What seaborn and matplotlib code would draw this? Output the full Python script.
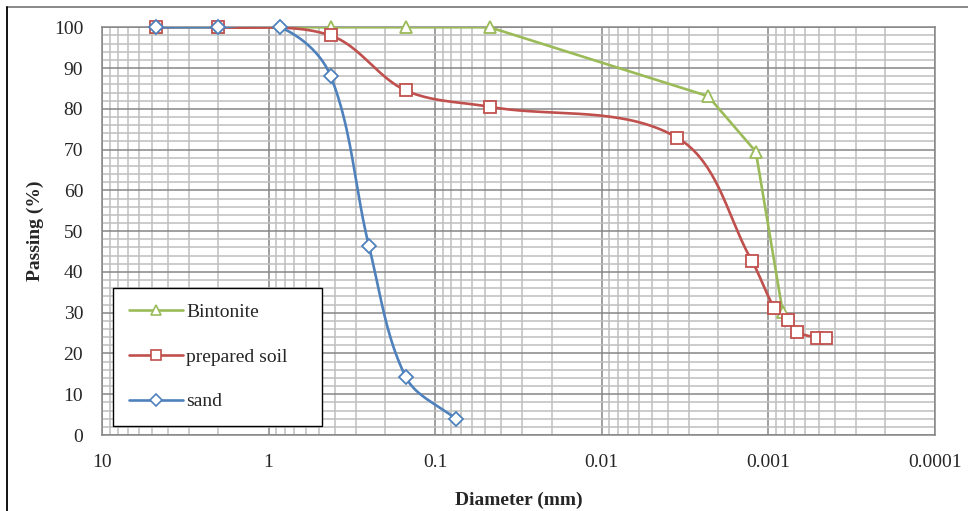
import numpy as np
import pandas as pd
import matplotlib
matplotlib.use("Agg")
import matplotlib.pyplot as plt
from matplotlib.lines import Line2D
from matplotlib.ticker import FixedLocator, NullFormatter, FixedFormatter
import seaborn as sns

# ---------------- data ----------------
bent_d = [4.75, 2.0, 0.425, 0.15, 0.047, 0.0023, 0.00119, 0.00082]
bent_p = [100, 100, 100, 100, 100, 83.1, 69.5, 30.1]

soil_d = [4.75, 2.0, 0.425, 0.15, 0.047, 0.00352, 0.00126, 0.00092, 0.00076, 0.00067, 0.00051, 0.00045]
soil_p = [100, 100, 98.0, 84.5, 80.5, 72.9, 42.8, 31.2, 28.2, 25.3, 23.9, 23.9]

sand_d = [4.75, 2.0, 0.85, 0.425, 0.25, 0.15, 0.075]
sand_p = [100, 100, 100, 88.1, 46.4, 14.2, 3.9]

series_names = ["Bintonite", "prepared soil", "sand"]
series_colors = ["#9BBB59", "#C0504D", "#4F81BD"]
series_markers = ["^", "s", "D"]
series_smooth = [False, True, True]

x_tick_vals = [10, 1, 0.1, 0.01, 0.001, 0.0001]
x_tick_labels = ["10", "1", "0.1", "0.01", "0.001", "0.0001"]
y_tick_vals = list(range(0, 101, 10))

# approximate on-screen scale (px per decade, px per percent) used only for smoothing shape
SX, SY = 166.7, 4.077


def smooth(xs, ys, n=40):
    """Excel-like smoothed line: Bezier segments with length-limited tangents."""
    lx = np.log10(np.asarray(xs, float)) * SX
    y = np.asarray(ys, float) * SY
    P = np.column_stack([lx, y])
    out = []
    m = len(P)
    for i in range(m - 1):
        p0 = P[i - 1] if i > 0 else P[i]
        p1 = P[i]
        p2 = P[i + 1]
        p3 = P[i + 2] if i + 2 < m else P[i + 1]
        L = np.linalg.norm(p2 - p1)
        t1 = p2 - p0
        t2 = p3 - p1
        n1 = np.linalg.norm(t1)
        n2 = np.linalg.norm(t2)
        c1 = p1 + (t1 / n1 * L / 3.0 if n1 > 0 else 0)
        c2 = p2 - (t2 / n2 * L / 3.0 if n2 > 0 else 0)
        t = np.linspace(0, 1, n)[:, None]
        seg = ((1 - t) ** 3) * p1 + 3 * ((1 - t) ** 2) * t * c1 + 3 * (1 - t) * t ** 2 * c2 + t ** 3 * p2
        if i > 0:
            seg = seg[1:]
        out.append(seg)
    out = np.vstack(out)
    return 10 ** (out[:, 0] / SX), out[:, 1] / SY


sns.set_style("white")
plt.rcParams["font.family"] = ["Liberation Serif", "DejaVu Serif"]

FS = 14

fig = plt.figure(figsize=(9.68, 5.11), dpi=100)
ax = fig.add_axes([102 / 968, 1 - 435 / 511, 833 / 968, 407.7 / 511])

data = [(bent_d, bent_p), (soil_d, soil_p), (sand_d, sand_p)]
handles = []
for (d, p), name, col, mk, sm in zip(data, series_names, series_colors, series_markers, series_smooth):
    if sm:
        sx, sy = smooth(d, p)
    else:
        sx, sy = d, p
    curve = pd.DataFrame({"d": sx, "p": sy})
    sns.lineplot(data=curve, x="d", y="p", sort=False, estimator=None,
                 color=col, lw=1.9, ax=ax, zorder=3)
    pts = pd.DataFrame({"d": d, "p": p})
    ms = 7.2 if mk == "D" else 9.0 if mk == "^" else 8.5
    ax.plot(pts["d"], pts["p"], linestyle="none", marker=mk, markersize=ms,
            markerfacecolor="white", markeredgecolor=col, markeredgewidth=1.3,
            zorder=4, clip_on=False)
    handles.append(Line2D([], [], color=col, lw=1.9, marker=mk, markersize=ms - 1.5,
                          markerfacecolor="white", markeredgecolor=col, markeredgewidth=1.2))

ax.set_xscale("log")
ax.set_xlim(10, 0.0001)
ax.set_ylim(0, 100)

ax.xaxis.set_major_locator(FixedLocator(x_tick_vals))
ax.xaxis.set_major_formatter(FixedFormatter(x_tick_labels))
minor_x = [m * 10.0 ** e for e in range(-4, 1) for m in range(2, 10)]
ax.xaxis.set_minor_locator(FixedLocator(minor_x))
ax.xaxis.set_minor_formatter(NullFormatter())
ax.yaxis.set_major_locator(FixedLocator(y_tick_vals))
ax.yaxis.set_minor_locator(FixedLocator(list(range(0, 101, 2))))

ax.grid(which="major", color="#868686", lw=1.1, zorder=1)
ax.grid(which="minor", color="#BFBFBF", lw=1.1, zorder=0)
ax.set_axisbelow(True)

ax.tick_params(axis="x", which="major", length=5, width=1.1, color="#868686",
               labelsize=FS, pad=8.5, direction="out")
ax.tick_params(axis="x", which="minor", length=0)
ax.tick_params(axis="y", which="both", length=0, labelsize=FS, pad=13.5)
for sp in ax.spines.values():
    sp.set_color("#868686")
    sp.set_linewidth(1.1)

ax.set_xlabel("Diameter (mm)", fontsize=FS, fontweight="bold", labelpad=15)
ax.set_ylabel("Passing (%)", fontsize=FS, fontweight="bold", labelpad=7)

leg = ax.legend(handles, series_names, loc="lower left",
                bbox_to_anchor=(11 / 833, 9 / 408, 209 / 833, 0.3), mode="expand",
                borderaxespad=0,
                fontsize=FS, frameon=True, fancybox=False, framealpha=1,
                edgecolor="black", handlelength=2.8, handletextpad=0.15,
                labelspacing=1.39, borderpad=0.8)
leg.get_frame().set_linewidth(1.0)
leg.set_zorder(6)

# outer figure border lines
fig.add_artist(Line2D([7 / 968, 1], [1 - 7.5 / 511, 1 - 7.5 / 511],
                      transform=fig.transFigure, color="#7F7F7F", lw=1.3))
fig.add_artist(Line2D([7 / 968, 7 / 968], [0, 1 - 7.5 / 511],
                      transform=fig.transFigure, color="black", lw=1.3))

fig.savefig("out.png", dpi=100)
